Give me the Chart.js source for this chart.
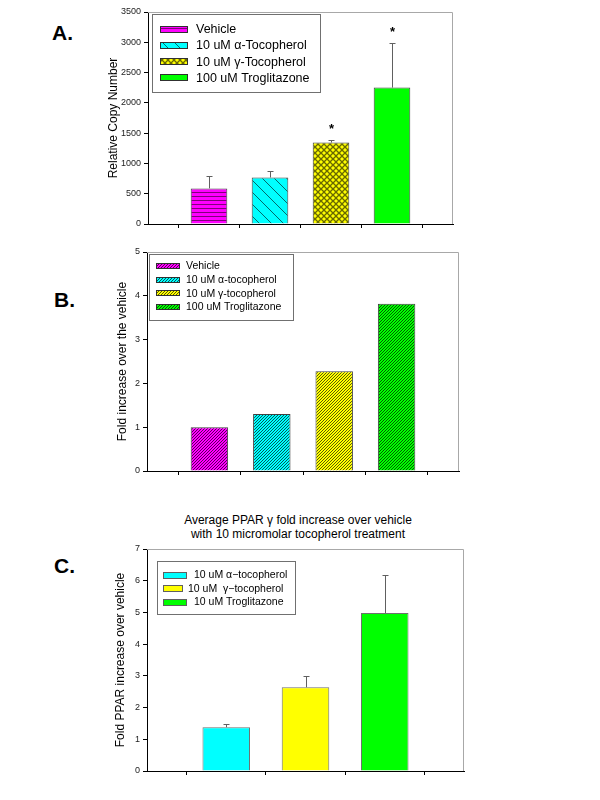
<!DOCTYPE html>
<html><head><meta charset="utf-8">
<script src="https://cdn.jsdelivr.net/npm/chart.js@4"></script>
<style>
body{margin:0;background:#fff;width:600px;height:800px;position:relative;overflow:hidden;font-family:"Liberation Sans",Arial,sans-serif}
canvas{position:absolute;left:0}
.lab{position:absolute;font-weight:bold;font-size:21px;line-height:21px;color:#000}
#titleC{position:absolute;left:148px;width:300px;text-align:center;top:513px;font-size:12px;line-height:14px;color:#000}
</style></head><body>
<div class="lab" style="left:52px;top:22px">A.</div>
<div class="lab" style="left:54px;top:289px">B.</div>
<div class="lab" style="left:54px;top:555px">C.</div>
<div id="titleC"></div>
<canvas id="cA" width="600" height="240" style="top:0px"></canvas>
<canvas id="cB" width="600" height="250" style="top:240px"></canvas>
<canvas id="cC" width="600" height="260" style="top:540px"></canvas>
<script>
// ---------- data ----------
const catA = ['Vehicle','10 uM α-Tocopherol','10 uM γ-Tocopherol','100 uM Troglitazone'];
const valA = [588, 768, 1345, 2252];
const errA = [197, 115, 45, 738];
const starA = [false, false, true, true];
const ticksA = {min:0, max:3500, step:500};
const yTitleA = 'Relative Copy Number';

const catB = ['Vehicle','10 uM α-tocopherol','10 uM γ-tocopherol','100 uM Troglitazone'];
const valB = [1.0, 1.30, 2.28, 3.82];
const ticksB = {min:0, max:5, step:1};
const yTitleB = 'Fold increase over the vehicle';

const titleC = ['Average PPAR γ fold increase over vehicle','with 10 micromolar tocopherol treatment'];
const catC = ['10 uM α−tocopherol','10 uM  γ−tocopherol','10 uM Troglitazone'];
const valC = [1.38, 2.64, 4.98];
const errC = [0.09, 0.35, 1.20];
const ticksC = {min:0, max:7, step:1};
const yTitleC = 'Fold PPAR increase over vehicle';

document.getElementById('titleC').innerHTML = titleC.join('<br>');

// ---------- patterns ----------
function mkPat(bg, fg, kind){
  const c = document.createElement('canvas');
  let s = 4;
  if (kind==='h') s=4; else if (kind==='bs') s=12; else if (kind==='x') s=6; else if (kind==='fs') s=3;
  c.width=s; c.height=s;
  const g=c.getContext('2d');
  g.fillStyle=bg; g.fillRect(0,0,s,s);
  g.strokeStyle=fg; g.fillStyle=fg;
  if (kind==='h'){ g.fillRect(0,0,s,1); }
  else if (kind==='bs'){
    g.lineWidth=1;
    for (const k of [-s,0,s]){ g.beginPath(); g.moveTo(k-1,-1); g.lineTo(k+s+1,s+1); g.stroke(); }
  } else if (kind==='x'){
    g.lineWidth=1.3;
    for (const k of [-s,0,s]){
      g.beginPath(); g.moveTo(k-1,-1); g.lineTo(k+s+1,s+1); g.stroke();
      g.beginPath(); g.moveTo(k-1,s+1); g.lineTo(k+s+1,-1); g.stroke();
    }
  } else if (kind==='fs'){
    for (let y=0;y<s;y++) g.fillRect((s-1-y)%s, y, 1, 1);
  }
  return document.createElement('canvas').getContext('2d').createPattern(c,'repeat');
}
const fillA = [mkPat('#ff00ff','#80007a','h'), mkPat('#00ffff','#006a6a','bs'), mkPat('#ffff00','#6a6a00','x'), '#00ff00'];
const fillB = [mkPat('#ff00ff','#5a005a','fs'), mkPat('#00ffff','#005a5a','fs'), mkPat('#ffff00','#5a5a00','fs'), mkPat('#00ff00','#005a00','fs')];
const fillC = ['#00ffff','#ffff00','#00ff00'];

const FONT = '"Liberation Sans", Arial, sans-serif';
Chart.defaults.font.family = FONT;

// ---------- plugins ----------
const framePlugin = {
  id:'frame',
  afterDraw(chart){
    const a=chart.chartArea, c=chart.ctx;
    c.save(); c.strokeStyle='#a8a8a8'; c.lineWidth=1;
    c.beginPath(); c.moveTo(a.left, a.top+0.5); c.lineTo(a.right-0.5, a.top+0.5); c.lineTo(a.right-0.5, a.bottom); c.stroke();
    c.restore();
  }
};
const errPlugin = {
  id:'errbars',
  afterDatasetsDraw(chart, args, o){
    if (!o || !o.err) return;
    const meta=chart.getDatasetMeta(0), y=chart.scales.y, c=chart.ctx;
    c.save();
    o.err.forEach((e,i)=>{
      const el=meta.data[i+1]; const v=o.vals[i];
      const y0=y.getPixelForValue(v), y1=y.getPixelForValue(v+e);
      const x=Math.round(el.x)+0.5;
      c.strokeStyle=o.color; c.lineWidth=1;
      c.beginPath(); c.moveTo(x,y0); c.lineTo(x,Math.round(y1)+0.5);
      c.moveTo(x-o.cap, Math.round(y1)+0.5); c.lineTo(x+o.cap, Math.round(y1)+0.5); c.stroke();
      if (o.stars && o.stars[i]){
        c.fillStyle='#000'; c.font='bold 13px '+FONT; c.textAlign='center'; c.textBaseline='middle';
        c.fillText('*', x, y1-10);
      }
    });
    c.restore();
  }
};
const legPlugin = {
  id:'leg',
  afterDraw(chart, args, o){
    if (!o || !o.items) return;
    const c=chart.ctx;
    c.save();
    c.fillStyle='#fff'; c.fillRect(o.box[0],o.box[1],o.box[2]-o.box[0],o.box[3]-o.box[1]);
    c.strokeStyle='#707070'; c.lineWidth=1;
    c.strokeRect(o.box[0]+0.5,o.box[1]+0.5,o.box[2]-o.box[0],o.box[3]-o.box[1]);
    c.font=o.font+'px '+FONT; c.textBaseline='middle'; c.textAlign='left';
    o.items.forEach((t,i)=>{
      const yc=o.y0+i*o.dy;
      const sw = (o.swi && o.swi[i]) || o.sw;
      c.fillStyle=o.fills[i]; c.fillRect(o.sx, Math.round(yc-o.sh/2), sw, o.sh);
      c.strokeStyle=o.sb; c.strokeRect(o.sx+0.5, Math.round(yc-o.sh/2)+0.5, sw-1, o.sh-1);
      c.fillStyle='#000'; c.fillText(t, o.tx+((o.tdx&&o.tdx[i])||0), yc+0.5);
    });
    c.restore();
  }
};

function pad(arr, fill){ return [fill, ...arr, fill]; }

function makeChart(id, cats, vals, fills, ticks, ytitle, L){
  return new Chart(document.getElementById(id), {
    type:'bar',
    data:{ labels: pad(cats.map(()=>''), ''), datasets:[{ data: pad(vals, null), backgroundColor: pad(fills, '#fff'), borderColor:L.bc, borderWidth:1, borderSkipped:'bottom', categoryPercentage:1, barPercentage:0.6 }]},
    options:{
      responsive:false, animation:false, events:[],
      layout:{ padding: L.pad },
      plugins:{ legend:{display:false}, tooltip:{enabled:false}, title:{display:false},
        errbars: L.err, leg: L.leg },
      scales:{
        x:{ type:'category', offset:false, ticks:{display:false}, grid:{drawOnChartArea:false, tickLength:4, color:'#000'}, border:{color:'#000'}, afterFit(s){ s.height=L.xh; } },
        y:{ min:ticks.min, max:ticks.max, ticks:{stepSize:ticks.step, font:{size:9}, color:'#222', padding:3, callback:(v)=>String(v)}, grid:{drawOnChartArea:false, tickLength:4, color:'#000'}, border:{color:'#000'},
            title:{display:true, text:ytitle, font:{size:12}, color:'#000', padding:{top:4,bottom:4}}, afterFit(s){ s.width=L.yw; } }
      }
    },
    plugins:[framePlugin, errPlugin, legPlugin]
  });
}

makeChart('cA', catA, valA, fillA, ticksA, yTitleA, {
  pad:{left:102, right:147, top:12, bottom:0}, yw:46, xh:16, bc:'#404040',
  err:{err:errA, vals:valA, stars:starA, color:'#606060', cap:3},
  leg:{items:catA, fills:fillA, box:[152,14,320,92], sx:160, sw:28, sh:7, sb:'#303030', tx:196, y0:29, dy:16.3, font:12.5}
});
makeChart('cB', catB, valB, fillB, ticksB, yTitleB, {
  pad:{left:111, right:141, top:12, bottom:0}, yw:36, xh:19, bc:'#404040',
  err:null,
  leg:{items:catB, fills:fillB, box:[149,14,293,80], sx:156, sw:24, sh:6, sb:'#303030', tx:186, y0:26, dy:13.7, font:10.5}
});
makeChart('cC', catC, valC, fillC, ticksC, yTitleC, {
  pad:{left:109, right:136, top:9, bottom:0}, yw:38, xh:29, bc:'#707070',
  err:{err:errC, vals:valC, stars:null, color:'#606060', cap:3},
  leg:{items:catC, fills:fillC, box:[157,21,295,74], sx:163, sw:24, swi:[24,20,24], sh:7, sb:'#606060', tx:194, tdx:[0,-6,0], y0:35, dy:13.5, font:10.5}
});
</script>
</body></html>
